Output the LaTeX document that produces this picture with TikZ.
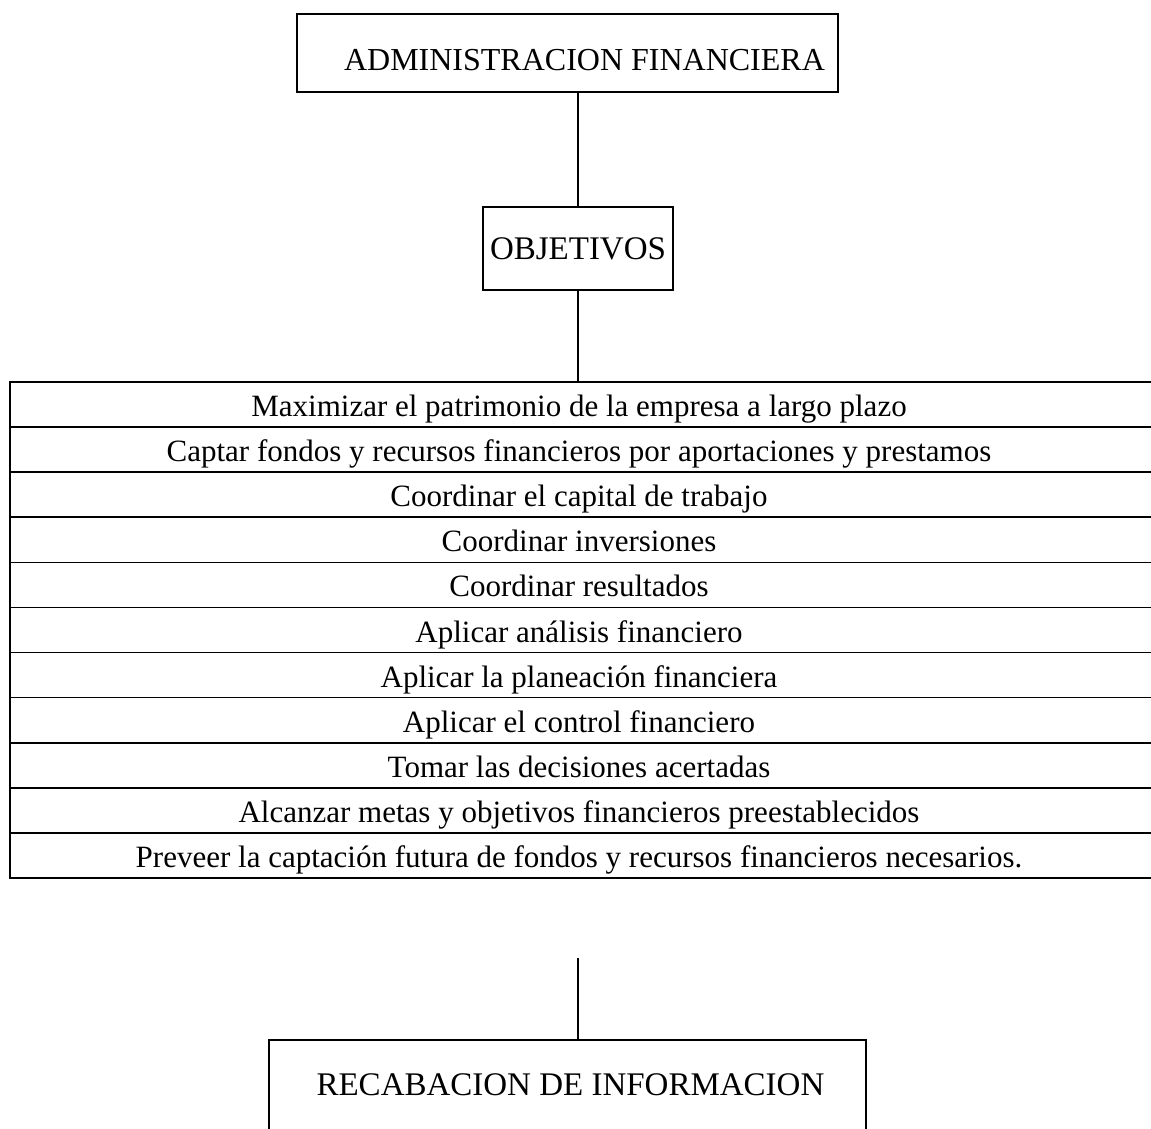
\documentclass[tikz,border=0pt]{standalone}
\usepackage{fontspec}
\setmainfont{Liberation Serif}
\usetikzlibrary{calc}
\begin{document}
\begin{tikzpicture}[x=1pt,y=-1pt,
  ln/.style={line width=1.6pt, black},
  frame/.style={draw, ln, rectangle, inner sep=0pt},
  head/.style={font=\fontsize{32}{36}\selectfont, inner sep=0pt},
  rowtxt/.style={font=\fontsize{31}{34}\selectfont, inner sep=0pt, anchor=base}]
\useasboundingbox (0,0) rectangle (1151,1129);
% top box
\node[frame, minimum width=541pt, minimum height=78pt] (adm) at (567.5,53) {};
\node[head] (admt) at (584.5,60) {ADMINISTRACION FINANCIERA};
% objetivos
\node[frame, minimum width=190pt, minimum height=83pt, font=\fontsize{33}{36}\selectfont] (obj) at (578,248.5) {OBJETIVOS};
\draw[ln] (obj.north |- adm.south) -- (obj.north);
% table
\coordinate (ttl) at (10,382);
\coordinate (ttr) at (1151,382);
\coordinate (tbl) at (10,878);
\coordinate (tbr) at (1151,878);
\draw[ln] (obj.south) -- (obj.south |- ttl);
\draw[ln] (ttr) -- (ttl) -- (tbl) -- (tbr);
\foreach \i in {1,...,10}{
  \draw[ln] ($(ttl)!\i/11!(tbl)$) -- ($(ttr)!\i/11!(tbr)$);
}
\foreach \t [count=\i] in {
  Maximizar el patrimonio de la empresa a largo plazo,
  Captar fondos y recursos financieros por aportaciones y prestamos,
  Coordinar el capital de trabajo,
  Coordinar inversiones,
  Coordinar resultados,
  Aplicar análisis financiero,
  Aplicar la planeación financiera,
  Aplicar el control financiero,
  Tomar las decisiones acertadas,
  Alcanzar metas y objetivos financieros preestablecidos,
  Preveer la captación futura de fondos y recursos financieros necesarios.}{
  \node[rowtxt] (r\i) at (579,{382+45.09*\i-10.5}) {\t};
}
% bottom box
\node[inner sep=0pt, minimum width=597pt, minimum height=89pt, font=\fontsize{33}{36}\selectfont] (rec) at (567.5,1084.5) {\hspace*{6pt}RECABACION DE INFORMACION};
\draw[ln] (rec.south west) -- (rec.north west) -- (rec.north east) -- (rec.south east);
\coordinate (tend) at (578,958);
\draw[ln] (tend) -- (tend |- rec.north);
\end{tikzpicture}
\end{document}
